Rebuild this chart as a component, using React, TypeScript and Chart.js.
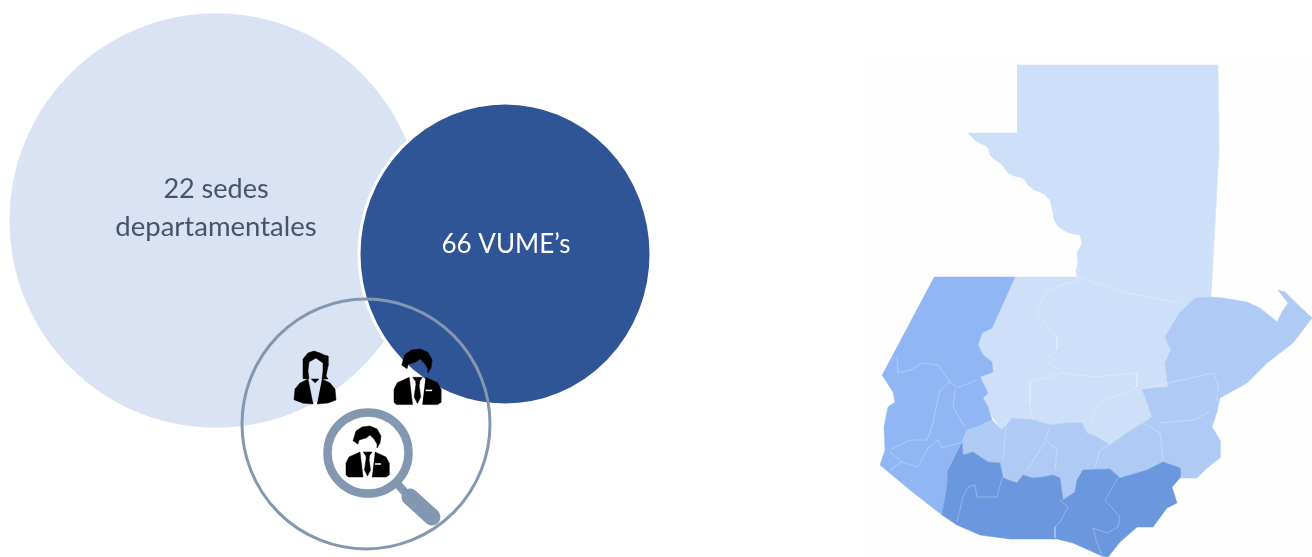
import React, { useEffect, useRef } from "react";
import { Chart, registerables } from "chart.js";

Chart.register(...registerables);

type P = [number, number];

// ---- circles: [x, y, r, verticalStretch]
const sedesCircle = [216, 220.5, 206.5, 1.004];
const vumeCircle = [505, 254, 146, 1.035];
const ringCircle = [366, 424, 124, 1.008];
const lensCircle = [368, 453, 40.5, 1];

// ---- labels
const labelTexts = ["22 sedes", "departamentales", "66 VUME\u2019s"];
const labelXs = [216, 216, 506];
const labelYs = [189.5, 227.5, 245];
const labelColors = ["#44546A", "#44546A", "#FFFFFF"];
const labelSizes = [27, 27.5, 26];

// ---- map regions
const backdrop: P[] = [[864, 60], [1312, 60], [1312, 557], [864, 557]];
const northCentral: P[] = [[1017, 65], [1218, 65], [1219, 150], [1211, 297], [1195, 298], [1180, 312], [1165, 337], [1171, 350], [1165, 363], [1168, 387], [1142, 389], [1148, 405], [1152, 417], [1143, 423], [1127, 433], [1110, 445], [1097, 437], [1087, 433], [1082, 423], [1067, 423], [1050, 425], [1033, 420], [1012, 418], [1002, 430], [992, 417], [988, 407], [983, 398], [988, 393], [980, 377], [993, 372], [992, 362], [983, 355], [978, 345], [982, 333], [992, 328], [1015, 277], [1077, 277], [1076, 270], [1078, 263], [1077, 253], [1082, 243], [1080, 235], [1073, 234], [1067, 232], [1060, 228], [1057, 225], [1054, 219], [1053, 213], [1050, 200], [1045, 195], [1040, 192], [1034, 190], [1028, 185], [1024, 179], [1020, 177], [1014, 176], [1008, 173], [1003, 166], [1000, 163], [994, 159], [990, 155], [988, 148], [985, 145], [979, 143], [975, 140], [971, 136], [968, 133], [1017, 133]];
const west: P[] = [[934, 277], [1015, 277], [992, 328], [982, 333], [978, 345], [983, 355], [992, 362], [993, 372], [980, 377], [988, 393], [983, 398], [988, 407], [992, 420], [977, 427], [967, 430], [962, 442], [948, 470], [947, 487], [942, 515], [910, 490], [880, 465], [885, 450], [884, 427], [888, 407], [895, 402], [893, 392], [882, 375]];
const east: P[] = [[1195, 298], [1211, 297], [1223, 298], [1247, 302], [1260, 308], [1275, 320], [1277, 322], [1282, 312], [1288, 303], [1278, 290], [1285, 292], [1293, 300], [1312, 318], [1293, 343], [1267, 363], [1247, 383], [1220, 398], [1217, 412], [1212, 427], [1220, 440], [1220, 458], [1207, 468], [1197, 478], [1180, 478], [1180, 468], [1163, 462], [1147, 470], [1137, 473], [1120, 478], [1110, 469], [1083, 470], [1077, 480], [1075, 492], [1063, 500], [1060, 478], [1053, 475], [1043, 477], [1033, 478], [1023, 475], [1017, 483], [1003, 478], [1000, 463], [988, 462], [973, 452], [963, 455], [962, 442], [967, 430], [977, 427], [992, 420], [1002, 430], [1012, 418], [1033, 420], [1050, 425], [1067, 423], [1082, 423], [1087, 433], [1097, 437], [1110, 445], [1127, 433], [1143, 423], [1152, 417], [1148, 405], [1142, 389], [1168, 387], [1165, 363], [1171, 350], [1165, 337], [1180, 312]];
const south: P[] = [[962, 442], [963, 455], [973, 452], [988, 462], [1000, 463], [1003, 478], [1017, 483], [1023, 475], [1033, 478], [1043, 477], [1053, 475], [1060, 478], [1063, 500], [1075, 492], [1077, 480], [1083, 470], [1110, 469], [1120, 478], [1137, 473], [1147, 470], [1163, 462], [1180, 468], [1180, 478], [1172, 487], [1177, 503], [1167, 508], [1153, 527], [1137, 527], [1120, 542], [1108, 557], [1102, 556], [1073, 543], [1057, 539], [1010, 539], [980, 535], [957, 525], [942, 515], [947, 487], [948, 470]];
const topEdge: P[] = [[864, 60], [1312, 60]];

// ---- department borders inside the map
const borders: P[][] = [
  [[897, 357], [898, 373], [910, 370], [923, 363], [938, 365], [950, 382], [940, 390], [937, 403], [932, 427], [927, 440], [910, 440], [890, 450]],
  [[950, 382], [957, 388], [977, 380]],
  [[955, 390], [953, 407], [965, 427]],
  [[890, 452], [902, 462], [890, 470]],
  [[902, 462], [918, 467], [928, 448], [938, 440], [942, 448], [962, 442]],
  [[1077, 280], [1047, 290], [1037, 313], [1057, 337], [1057, 350], [1045, 360], [1063, 373], [1030, 382], [1030, 403], [1033, 420]],
  [[1063, 373], [1093, 377], [1137, 373], [1137, 387], [1100, 403], [1090, 423]],
  [[1077, 277], [1127, 293], [1180, 303]],
  [[1007, 418], [1003, 460]],
  [[1050, 427], [1045, 440], [1057, 450], [1055, 470]],
  [[1045, 442], [1027, 470]],
  [[1095, 467], [1100, 450], [1110, 445]],
  [[1143, 423], [1160, 433], [1163, 460]],
  [[1160, 423], [1193, 420], [1210, 412]],
  [[1142, 389], [1213, 373], [1218, 383], [1217, 402]],
  [[957, 522], [963, 497], [968, 487], [975, 485], [977, 497], [997, 497], [1002, 478]],
  [[1060, 500], [1068, 507], [1060, 522], [1055, 527], [1055, 538]],
  [[1118, 478], [1105, 500], [1120, 517], [1118, 527], [1107, 533], [1093, 528], [1097, 543], [1102, 555]],
];

// ---- magnifier handle
const handleNeck: P[] = [[394, 480], [409, 497]];
const handleGrip: P[] = [[410, 497], [432, 517]];

// ---- pictograms (outline values relative to each icon's corner)
const manParts: P[][] = [
  [[7, 15], [10, 5], [16, 1], [24, 0], [31, 3], [35, 10], [34, 17], [31, 22], [31, 18], [28, 13], [24, 9], [20, 12], [13, 14], [12, 18], [10, 17]],
  [[0, 49], [0, 37], [3, 31], [14, 26], [17, 51], [8, 51], [2, 51]],
  [[29, 26], [40, 31], [43, 37], [43, 49], [40, 51], [26, 51]],
  [[19.5, 29], [23.5, 29], [23, 33], [24.5, 44], [21.5, 50], [18.5, 44], [20, 33]],
  [[17, 26], [26, 26], [24, 29], [19, 29]],
];
const manPocket: P[] = [[29, 38], [35, 38]];
const womanParts: P[][] = [
  [[9, 28], [9, 8], [14, 2], [20, 0], [26, 2], [30, 4], [34, 5], [34, 15], [32, 25], [34, 28], [28, 28], [29, 20], [29, 12], [22, 7], [15, 11], [14, 20], [15, 28]],
  [[0, 49], [1, 38], [6, 32], [14, 28], [19, 53], [8, 52]],
  [[28, 28], [36, 32], [41, 38], [42, 49], [34, 52], [23, 53]],
  [[17, 28], [25, 28], [21, 32]],
];
// [x, y, size]
const manTop = [394, 349, 1.09];
const manLens = [346, 426, 1];
const womanIcon = [294, 351, 1];

const toPts = (list: P[]) => list.map(([x, y]) => ({ x, y }));
const place = (list: P[], at: number[]) =>
  list.map(([x, y]) => ({ x: at[0] + x * at[2], y: at[1] + y * at[2] }));

function shape(data: { x: number; y: number }[], color: string) {
  return {
    type: "scatter",
    data,
    showLine: true,
    fill: "shape",
    tension: 0,
    backgroundColor: color,
    borderColor: color,
    borderWidth: 0.5,
    pointRadius: 0,
    clip: false,
  };
}
function stroke(data: { x: number; y: number }[], color: string, width: number, cap = "butt") {
  return {
    type: "scatter",
    data,
    showLine: true,
    fill: false,
    tension: 0,
    borderColor: color,
    backgroundColor: color,
    borderWidth: width,
    borderCapStyle: cap,
    borderJoinStyle: "round",
    pointRadius: 0,
    clip: false,
  };
}
function bubble(c: number[], fillColor: string, line: string, width: number) {
  return {
    type: "bubble",
    data: [{ x: c[0], y: c[1], r: c[2] }],
    stretchY: c[3],
    backgroundColor: fillColor,
    borderColor: line,
    borderWidth: width,
    hoverBorderWidth: width,
    clip: false,
  };
}

const stretchPlugin = {
  id: "stretchY",
  beforeDatasetDraw(chart: any, args: any) {
    const ds = chart.data.datasets[args.index];
    if (!ds.stretchY) return;
    const pt = ds.data[0];
    const cx = chart.scales.x.getPixelForValue(pt.x);
    const cy = chart.scales.y.getPixelForValue(pt.y);
    const ctx = chart.ctx;
    ctx.save();
    ctx.translate(cx, cy);
    ctx.scale(1, ds.stretchY);
    ctx.translate(-cx, -cy);
  },
  afterDatasetDraw(chart: any, args: any) {
    if (chart.data.datasets[args.index].stretchY) chart.ctx.restore();
  },
};

const labelPlugin = {
  id: "labels",
  afterDatasetsDraw(chart: any) {
    const ctx = chart.ctx;
    ctx.save();
    ctx.textAlign = "center";
    ctx.textBaseline = "middle";
    labelTexts.forEach((t, i) => {
      ctx.font = `${labelSizes[i]}px Lato, "Open Sans", sans-serif`;
      ctx.fillStyle = labelColors[i];
      ctx.fillText(t, chart.scales.x.getPixelForValue(labelXs[i]), chart.scales.y.getPixelForValue(labelYs[i]));
    });
    ctx.restore();
  },
};

export default function App() {
  const ref = useRef<HTMLCanvasElement>(null);
  useEffect(() => {
    const paint: any[] = [
      bubble(sedesCircle, "#DAE3F3", "#DAE3F3", 0),
      bubble(vumeCircle, "#2F5597", "#FFFFFF", 3),
      bubble(ringCircle, "rgba(255,255,255,0)", "#8497B0", 3),
      shape(toPts(backdrop), "#FEFEFE"),
      stroke(toPts(topEdge), "#FAFAFA", 1),
      shape(toPts(northCentral), "#CDDFF9"),
      shape(toPts(west), "#90B7F3"),
      shape(toPts(east), "#AFCBF5"),
      shape(toPts(south), "#6B97DE"),
      ...borders.map((b) => stroke(toPts(b), "rgba(255,255,255,0.28)", 1)),
      stroke(toPts(handleNeck), "#8497B0", 8),
      stroke(toPts(handleGrip), "#8497B0", 17, "round"),
      bubble(lensCircle, "#FFFFFF", "#8497B0", 8.5),
      ...womanParts.map((p) => shape(place(p, womanIcon), "#000000")),
      ...manParts.map((p) => shape(place(p, manTop), "#000000")),
      stroke(place(manPocket, manTop), "#FFFFFF", 1.5),
      ...manParts.map((p) => shape(place(p, manLens), "#000000")),
      stroke(place(manPocket, manLens), "#FFFFFF", 1.5),
    ];
    paint.forEach((d, i) => (d.order = paint.length - i));
    const chart = new Chart(ref.current!, {
      type: "scatter",
      data: { datasets: paint },
      plugins: [stretchPlugin, labelPlugin],
      options: {
        animation: false,
        responsive: false,
        devicePixelRatio: 1,
        layout: { padding: 0, autoPadding: false },
        events: [],
        plugins: { legend: { display: false }, tooltip: { enabled: false } },
        scales: {
          x: { type: "linear", display: false, min: 0, max: 1312 },
          y: { type: "linear", display: false, min: 0, max: 557, reverse: true },
        },
      },
    } as any);
    return () => chart.destroy();
  }, []);
  return (
    <div style={{ position: "fixed", left: 0, top: 0, width: 1312, height: 557, background: "#FFFFFF" }}>
      <canvas ref={ref} width={1312} height={557} style={{ display: "block", width: 1312, height: 557 }} />
    </div>
  );
}
